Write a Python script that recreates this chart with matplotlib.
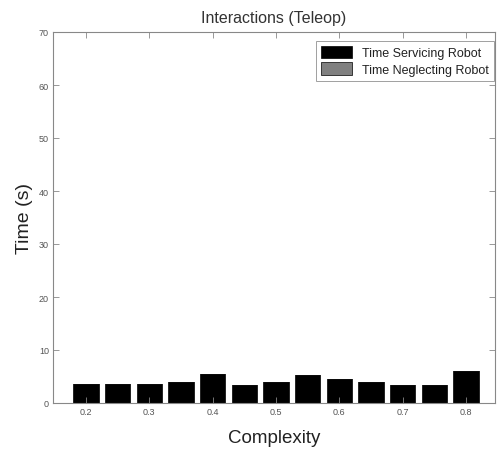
import matplotlib
matplotlib.use("Agg")
import matplotlib.pyplot as plt
import numpy as np

plt.rcParams['font.family'] = ['Liberation Sans', 'DejaVu Sans']

# Complexity levels and measured interaction times
complexity = [0.20, 0.25, 0.30, 0.35, 0.40, 0.45, 0.50, 0.55, 0.60, 0.65, 0.70, 0.75, 0.80]
time_servicing = [3.5, 3.5, 3.5, 4.0, 5.5, 3.4, 4.0, 5.2, 4.6, 4.0, 3.4, 3.4, 6.0]
time_neglecting = [0, 0, 0, 0, 0, 0, 0, 0, 0, 0, 0, 0, 0]
tick_values = [0.2, 0.3, 0.4, 0.5, 0.6, 0.7, 0.8]
tick_labels = ['0.2', '0.3', '0.4', '0.5', '0.6', '0.7', '0.8']
y_ticks = [0, 10, 20, 30, 40, 50, 60, 70]

fig = plt.figure(figsize=(5.02, 4.52), dpi=100)
ax = fig.add_axes([53 / 502, 48 / 452, 442 / 502, 371 / 452])

width = 0.8 * 0.05
ax.bar(complexity, time_servicing, width=width, color='black', edgecolor='black',
       linewidth=0.5, label='Time Servicing Robot')
ax.bar(complexity, time_neglecting, width=width, bottom=time_servicing,
       color='#808080', edgecolor='black', linewidth=0.5, label='Time Neglecting Robot')

ax.set_xlim(0.148, 0.846)
ax.set_ylim(0, 70)
ax.set_xticks(tick_values)
ax.set_xticklabels(tick_labels)
ax.set_yticks(y_ticks)

axis_gray = '#888888'
for s in ax.spines.values():
    s.set_color(axis_gray)
    s.set_linewidth(0.8)
ax.tick_params(direction='in', length=4, width=0.6, color=axis_gray,
               labelsize=6.5, labelcolor='#555555', top=True, right=True, pad=3)

ax.set_title('Interactions (Teleop)', fontsize=11.5, color='#333333', pad=7)
ax.set_xlabel('Complexity', fontsize=13.5, color='#222222', labelpad=9)
ax.set_ylabel('Time (s)', fontsize=14, color='#222222', labelpad=4)

leg = ax.legend(loc='upper right', fontsize=9, frameon=True, fancybox=False,
                bbox_to_anchor=(1.0, 0.98), borderaxespad=0.1,
                handlelength=2.5, handleheight=1.2,
                labelspacing=0.25, borderpad=0.4, handletextpad=0.8)
leg.get_frame().set_edgecolor(axis_gray)
leg.get_frame().set_linewidth(0.7)
for t in leg.get_texts():
    t.set_color('#222222')

fig.savefig('out.png', dpi=100)
